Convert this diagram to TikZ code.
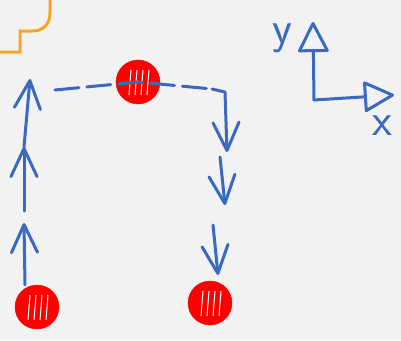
\documentclass[tikz,border=0pt]{standalone}
\usetikzlibrary{arrows.meta}
\definecolor{bg}{HTML}{F2F2F2}
\definecolor{pen}{HTML}{3A69C2}
\definecolor{marker}{HTML}{F5A623}
\begin{document}
\begin{tikzpicture}[x=1pt,y=-1pt,
    blob/.style={circle,fill=red,draw=red,minimum size=44pt,inner sep=0pt,
      path picture={\foreach \dx in {-9,-3,3,9}{\draw[white,line width=1pt] ([xshift=\dx pt,yshift=-13pt]path picture bounding box.center) -- ++(2pt,25pt);}}},
    ink/.style={pen,line width=3pt,line cap=round,line join=round},
    chev/.style={-{Straight Barb[length=28pt,width=26pt,round]}},
    axis/.style={-{Triangle[open,length=32pt,width=32pt,round]}}]
      \useasboundingbox[fill=bg] (0,0) rectangle (401,340);
      \draw[marker,line width=3pt] (0,52)--(20,52)--(20,31)--(32,31)
        .. controls (44,31) and (50,24) .. (50,12)--(50,0);
      \node[blob] (start) at (37,307) {};
      \node[blob] (mid) at (138,82) {};
      \node[blob] (goal) at (210,303) {};
      \coordinate (l1) at (24,223);
      \coordinate (l2) at (24,211);
      \coordinate (l3) at (24,147);
      \coordinate (top) at (30,79);
      \coordinate (dashL) at (55,90);
      \coordinate (turnA) at (212,89);
      \coordinate (turnB) at (225,92);
      \coordinate (r1) at (227,152);
      \coordinate (r2) at (220,157);
      \coordinate (r3) at (225,205);
      \coordinate (r4) at (213,225);
      \coordinate (r5) at (218,275);
      \draw[ink,chev] (start.north) ++(-12pt,0) -- (l1);
      \draw[ink,chev] (l2) -- (l3);
      \draw[ink,chev] (l3) -- (top);
      \draw[ink,dash pattern=on 24pt off 8pt] (dashL) -- (mid.center) -- (turnA);
      \draw[ink,chev] (turnA) -- (turnB) -- (r1);
      \draw[ink,chev] (r2) -- (r3);
      \draw[ink,chev] (r4) -- (r5);
      \coordinate (origin) at (314,100);
      \coordinate (ytip) at (313,22);
      \coordinate (xtip) at (394,95);
      \draw[ink,axis] (origin) -- (ytip);
      \draw[ink,axis] (origin) -- (xtip);
      \node[pen,font=\fontsize{46}{46}\sffamily,inner sep=0pt] (ylab) at (282,38) {y};
      \node[pen,font=\fontsize{46}{46}\sffamily,inner sep=0pt] (xlab) at (382,126) {x};
    \end{tikzpicture}
\end{document}
